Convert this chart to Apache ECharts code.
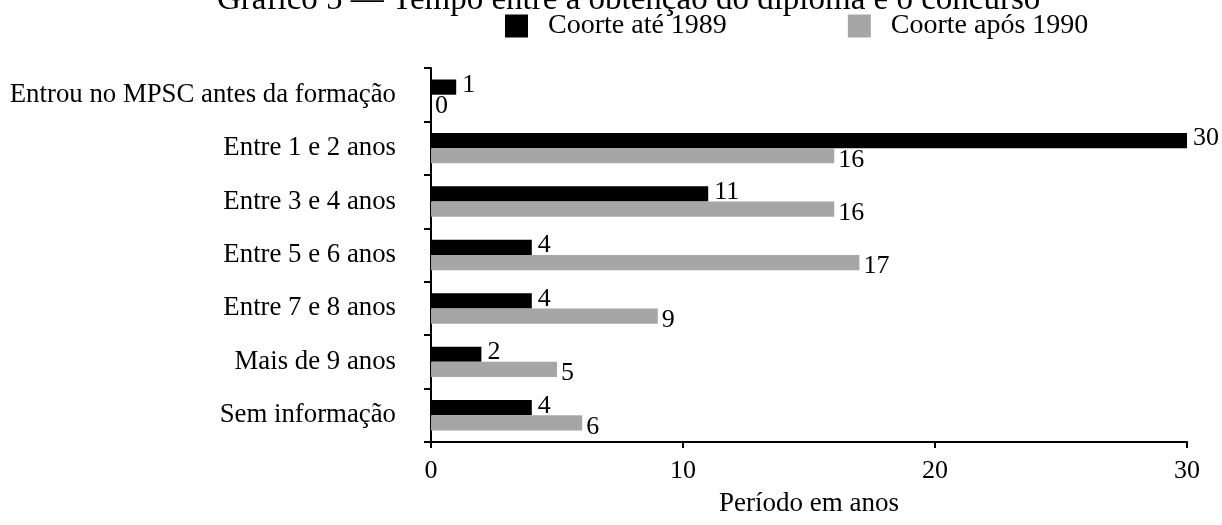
<!DOCTYPE html>
<html>
<head>
<meta charset="utf-8">
<script src="https://cdn.jsdelivr.net/npm/echarts@6/dist/echarts.min.js"></script>
<style>
  html, body { margin: 0; padding: 0; background: #fff; }
  #chart { width: 1222px; height: 525px; }
</style>
</head>
<body>
<div id="chart"></div>
<script>
const categories = [
  'Entrou no MPSC antes da formação',
  'Entre 1 e 2 anos',
  'Entre 3 e 4 anos',
  'Entre 5 e 6 anos',
  'Entre 7 e 8 anos',
  'Mais de 9 anos',
  'Sem informação'
];
const ate1989 = [1, 30, 11, 4, 4, 2, 4];
const apos1990 = [0, 16, 16, 17, 9, 5, 6];
const xTicks = [0, 10, 20, 30];

const FONT = "'Times New Roman', 'Liberation Serif', serif";

const chart = echarts.init(document.getElementById('chart'), null, { renderer: 'canvas' });

const options = {
  animation: false,
  textStyle: { fontFamily: FONT, color: '#000' },
  title: {
    text: 'Gráfico 5 — Tempo entre a obtenção do diploma e o concurso',
    left: 212,
    top: -21,
    textStyle: { fontFamily: FONT, fontWeight: 'normal', fontSize: 33, color: '#000' }
  },
  legend: {
    left: 500,
    top: 7,
    itemWidth: 23,
    itemHeight: 23,
    itemGap: 121,
    icon: 'rect',
    textStyle: { fontFamily: FONT, fontSize: 28, color: '#000', padding: [0, 0, 0, 15] },
    data: ['Coorte até 1989', 'Coorte após 1990']
  },
  grid: {
    left: 431, right: 35, top: 68, bottom: 83,
    containLabel: false,
    outerBoundsMode: 'none'
  },
  xAxis: {
    type: 'value',
    min: xTicks[0],
    max: xTicks[xTicks.length - 1],
    interval: 10,
    name: 'Período em anos',
    nameLocation: 'middle',
    nameGap: 48,
    nameTextStyle: { fontFamily: FONT, fontSize: 27, color: '#000' },
    axisLine: { show: true, lineStyle: { color: '#000', width: 2 } },
    axisTick: { show: true, length: 6, lineStyle: { color: '#000', width: 2 } },
    axisLabel: { fontFamily: FONT, fontSize: 26, color: '#000', margin: 16 },
    splitLine: { show: false }
  },
  yAxis: {
    type: 'category',
    inverse: true,
    data: categories,
    axisLine: { show: true, lineStyle: { color: '#000', width: 2 } },
    axisTick: { show: true, length: 7, lineStyle: { color: '#000', width: 2 } },
    axisLabel: { fontFamily: FONT, fontSize: 26.8, color: '#000', margin: 35 }
  },
  series: [
    {
      name: 'Coorte até 1989',
      type: 'bar',
      data: ate1989,
      barGap: 0,
      barCategoryGap: '43%',
      itemStyle: { color: '#000000' },
      label: {
        show: true,
        position: 'right',
        distance: 6,
        offset: [0, -2],
        fontFamily: FONT,
        fontSize: 26,
        color: '#000'
      }
    },
    {
      name: 'Coorte após 1990',
      type: 'bar',
      data: apos1990,
      barGap: 0,
      barCategoryGap: '43%',
      itemStyle: { color: '#a6a6a6' },
      label: {
        show: true,
        position: 'right',
        distance: 4,
        offset: [0, 4],
        fontFamily: FONT,
        fontSize: 26,
        color: '#000'
      }
    }
  ]
};

chart.setOption(options);
</script>
</body>
</html>
